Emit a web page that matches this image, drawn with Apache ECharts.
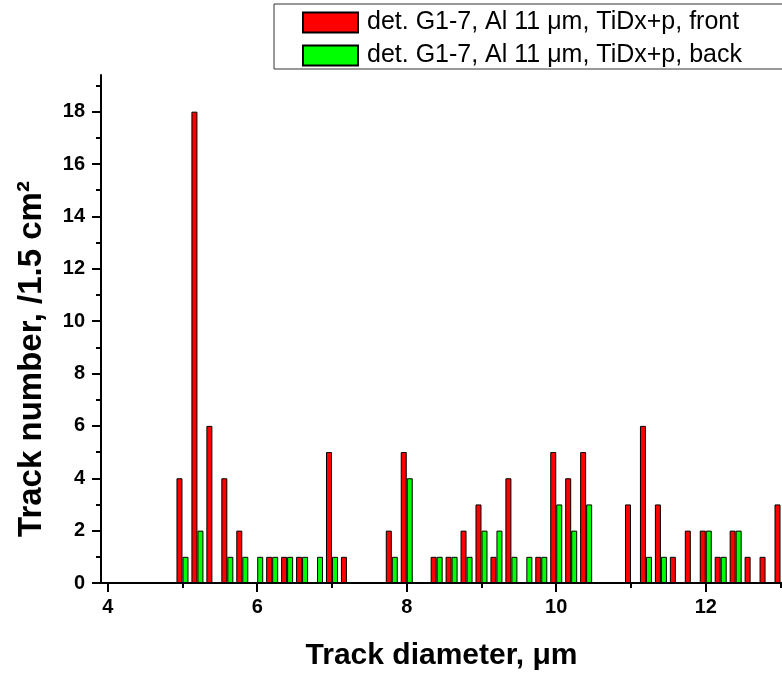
<!DOCTYPE html>
<html>
<head>
<meta charset="utf-8">
<script src="https://cdn.jsdelivr.net/npm/echarts@6/dist/echarts.min.js"></script>
<style>
  html, body { margin: 0; padding: 0; background: #fff; }
  #chart { width: 782px; height: 674px; }
</style>
</head>
<body>
<div id="chart"></div>
<script>
// bin centres, um
const bins = [5.0, 5.2, 5.4, 5.6, 5.8, 6.0, 6.2, 6.4, 6.6, 6.8, 7.0, 7.2, 7.4, 7.6, 7.8, 8.0, 8.2, 8.4, 8.6, 8.8,
  9.0, 9.2, 9.4, 9.6, 9.8, 10.0, 10.2, 10.4, 10.6, 10.8, 11.0, 11.2, 11.4, 11.6, 11.8, 12.0, 12.2, 12.4, 12.6, 12.8, 13.0]
const frontCounts = [4, 18, 6, 4, 2, 0, 1, 1, 1, 0, 5, 1, 0, 0, 2, 5, 0, 1, 1, 2,
  3, 1, 4, 0, 1, 5, 4, 5, 0, 0, 3, 6, 3, 1, 2, 2, 1, 2, 1, 1, 3]
const backCounts = [1, 2, 0, 1, 1, 1, 1, 1, 1, 1, 1, 0, 0, 0, 1, 4, 0, 1, 1, 1,
  2, 2, 1, 1, 1, 3, 2, 3, 0, 0, 0, 1, 1, 0, 0, 2, 1, 2, 0, 0, 0]
const xMajor = [4, 6, 8, 10, 12]
const xMinor = [5, 7, 9, 11, 13]
const yMajor = [0, 2, 4, 6, 8, 10, 12, 14, 16, 18]
const yMinor = [1, 3, 5, 7, 9, 11, 13, 15, 17, 19]
const seriesNames = ['det. G1-7, Al 11 \u03bcm, TiDx+p, front', 'det. G1-7, Al 11 \u03bcm, TiDx+p, back']

const FONT = 'Liberation Sans, Arial, sans-serif'
const X_MIN = 3.91, X_MAX = 13.02, Y_MAX = 19.4

const toPairs = (counts) => bins.map((b, i) => [b, counts[i]]).filter(p => p[1] > 0)

const chart = echarts.init(document.getElementById('chart'))

const axisLine = { show: true, lineStyle: { color: '#000', width: 2 } }

const option = {
  animation: false,
  grid: { left: 101, right: 0, top: 75, bottom: 91, containLabel: false, outerBoundsMode: 'none' },
  legend: {
    orient: 'vertical',
    left: 274,
    top: 4,
    padding: [6, 120, 1, 28],
    itemWidth: 55,
    itemHeight: 20,
    itemGap: 8,
    icon: 'rect',
    borderColor: '#333',
    borderWidth: 1,
    backgroundColor: '#fff',
    textStyle: { fontFamily: FONT, fontSize: 25, color: '#000', padding: [0, 0, 0, 4] },
    data: seriesNames
  },
  xAxis: [
    {
      type: 'value', min: X_MIN, max: X_MAX, position: 'bottom',
      axisLine: axisLine,
      splitLine: { show: false },
      axisTick: { show: true, inside: false, length: 9, lineStyle: { color: '#000', width: 2 }, customValues: xMajor },
      axisLabel: { fontFamily: FONT, fontSize: 20, fontWeight: 'bold', color: '#000', margin: 14, customValues: xMajor },
      name: 'Track diameter, \u03bcm',
      nameLocation: 'middle',
      nameGap: 58,
      nameTextStyle: { fontFamily: FONT, fontSize: 30, fontWeight: 'bold', color: '#000' }
    },
    {
      type: 'value', min: X_MIN, max: X_MAX, position: 'bottom',
      axisLine: { show: false },
      splitLine: { show: false },
      axisTick: { show: true, inside: false, length: 5, lineStyle: { color: '#000', width: 2 }, customValues: xMinor },
      axisLabel: { show: false }
    }
  ],
  yAxis: [
    {
      type: 'value', min: 0, max: Y_MAX, position: 'left',
      axisLine: axisLine,
      splitLine: { show: false },
      axisTick: { show: true, inside: false, length: 9, lineStyle: { color: '#000', width: 2 }, customValues: yMajor },
      axisLabel: { fontFamily: FONT, fontSize: 20, fontWeight: 'bold', color: '#000', margin: 16, customValues: yMajor }
    },
    {
      type: 'value', min: 0, max: Y_MAX, position: 'left',
      axisLine: { show: false },
      splitLine: { show: false },
      axisTick: { show: true, inside: false, length: 5, lineStyle: { color: '#000', width: 2 }, customValues: yMinor },
      axisLabel: { show: false }
    }
  ],
  graphic: [
    {
      type: 'text',
      x: 32,
      y: 359,
      rotation: Math.PI / 2,
      style: {
        text: 'Track number, /1.5 cm\u00b2',
        fontFamily: FONT,
        fontSize: 33,
        fontWeight: 'bold',
        fill: '#000',
        align: 'center',
        verticalAlign: 'middle'
      }
    }
  ],
  series: [
    {
      name: seriesNames[0],
      type: 'bar',
      xAxisIndex: 0,
      yAxisIndex: 0,
      barWidth: 6,
      barGap: '0%',
      itemStyle: { color: '#ff0000', borderColor: '#000', borderWidth: 1 },
      data: toPairs(frontCounts)
    },
    {
      name: seriesNames[1],
      type: 'bar',
      xAxisIndex: 0,
      yAxisIndex: 0,
      barWidth: 6,
      barGap: '0%',
      itemStyle: { color: '#00ff00', borderColor: '#000', borderWidth: 1 },
      data: toPairs(backCounts)
    }
  ]
}

chart.setOption(option)
</script>
</body>
</html>
